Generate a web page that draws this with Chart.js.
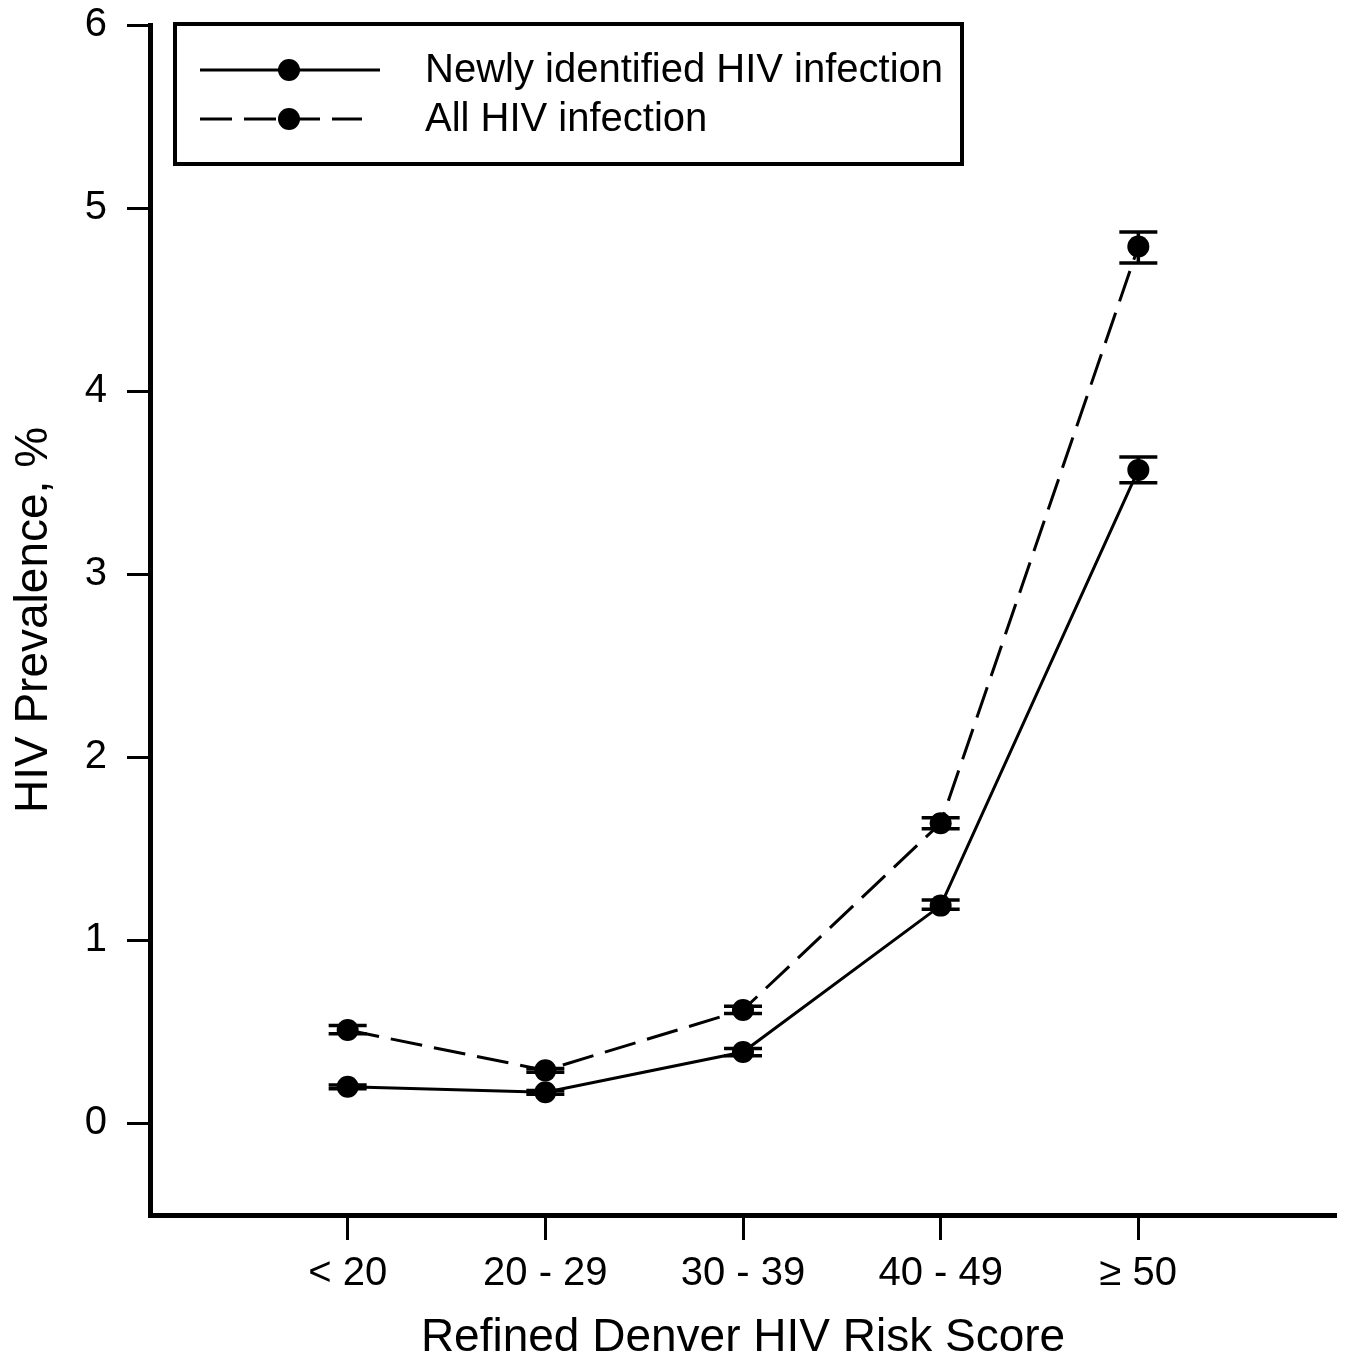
<!DOCTYPE html>
<html>
<head>
<meta charset="utf-8">
<script src="https://cdn.jsdelivr.net/npm/chart.js@4/dist/chart.umd.min.js"></script>
<style>
  body { margin: 0; background: #fff; }
  canvas { display: block; }
</style>
</head>
<body>
<canvas id="prevChart" width="1347" height="1361"></canvas>
<script>
// Risk score groups on the x axis
const categories = ['< 20', '20 - 29', '30 - 39', '40 - 49', '\u2265 50'];
const yTicks = [0, 1, 2, 3, 4, 5, 6];

// HIV prevalence (%) with lower / upper error bounds
const newlyValues = [0.20, 0.17, 0.39, 1.19, 3.57];
const newlyLower  = [0.19, 0.16, 0.37, 1.17, 3.50];
const newlyUpper  = [0.21, 0.18, 0.41, 1.22, 3.64];

const allValues = [0.51, 0.29, 0.62, 1.64, 4.79];
const allLower  = [0.49, 0.28, 0.60, 1.61, 4.70];
const allUpper  = [0.535, 0.30, 0.64, 1.67, 4.87];

const seriesNames = ['Newly identified HIV infection', 'All HIV infection'];

const FONT = "'Liberation Sans', Arial, sans-serif";

function toPoints(values) {
    return values.map((v, i) => ({ x: i + 1, y: v }));
}

// Error bar caps drawn with the chart's own scales
const errorBars = {
    id: 'errorBars',
    afterDatasetsDraw(chart) {
        const ctx = chart.ctx;
        const xs = chart.scales.x;
        const ys = chart.scales.y;
        const bounds = [[newlyLower, newlyUpper], [allLower, allUpper]];
        ctx.save();
        ctx.strokeStyle = '#000';
        ctx.lineWidth = 3.5;
        bounds.forEach(([lo, hi]) => {
            lo.forEach((l, i) => {
                const x = xs.getPixelForValue(i + 1);
                const yl = ys.getPixelForValue(l);
                const yh = ys.getPixelForValue(hi[i]);
                ctx.beginPath();
                ctx.moveTo(x, yl); ctx.lineTo(x, yh);
                ctx.moveTo(x - 19, yl); ctx.lineTo(x + 19, yl);
                ctx.moveTo(x - 19, yh); ctx.lineTo(x + 19, yh);
                ctx.stroke();
            });
        });
        ctx.restore();
    }
};

// Boxed legend with line + marker samples
const boxLegend = {
    id: 'boxLegend',
    afterDraw(chart) {
        const ctx = chart.ctx;
        ctx.save();
        ctx.strokeStyle = '#000';
        ctx.lineWidth = 4;
        ctx.strokeRect(175, 24, 787, 140);

        const rows = [70, 119];
        chart.data.datasets.forEach((ds, i) => {
            const y = rows[i];
            ctx.lineWidth = 3;
            ctx.setLineDash(ds.borderDash || []);
            ctx.beginPath();
            ctx.moveTo(200, y);
            ctx.lineTo(i === 0 ? 380 : 362, y);
            ctx.stroke();
            ctx.setLineDash([]);
            ctx.fillStyle = '#000';
            ctx.beginPath();
            ctx.arc(289, y, 11, 0, Math.PI * 2);
            ctx.fill();
            ctx.font = '40px ' + FONT;
            ctx.textBaseline = 'middle';
            ctx.fillText(ds.label, 425, y + 1);
        });
        ctx.restore();
    }
};

const ctx = document.getElementById('prevChart').getContext('2d');
new Chart(ctx, {
    type: 'line',
    data: {
        datasets: [
            {
                label: seriesNames[0],
                data: toPoints(newlyValues),
                borderColor: '#000',
                backgroundColor: '#000',
                borderWidth: 3,
                pointRadius: 11,
                pointBackgroundColor: '#000',
                pointBorderWidth: 0,
                fill: false,
                tension: 0
            },
            {
                label: seriesNames[1],
                data: toPoints(allValues),
                borderColor: '#000',
                backgroundColor: '#000',
                borderWidth: 3,
                borderDash: [32, 12],
                pointRadius: 11,
                pointBackgroundColor: '#000',
                pointBorderWidth: 0,
                fill: false,
                tension: 0
            }
        ]
    },
    options: {
        responsive: false,
        animation: false,
        layout: { padding: { top: 25, right: 3, left: 0, bottom: 0 } },
        plugins: {
            legend: { display: false },
            tooltip: { enabled: false }
        },
        scales: {
            x: {
                type: 'linear',
                min: 0,
                max: 6,
                afterBuildTicks: scale => {
                    scale.ticks = categories.map((c, i) => ({ value: i + 1 }));
                },
                afterFit: scale => { scale.height = 146; },
                ticks: {
                    callback: value => categories[value - 1],
                    color: '#000',
                    font: { family: FONT, size: 40 },
                    padding: 10,
                    maxRotation: 0
                },
                grid: {
                    drawOnChartArea: false,
                    drawTicks: true,
                    tickLength: 25,
                    tickWidth: 3,
                    tickColor: '#000'
                },
                border: { display: true, color: '#000', width: 5 },
                title: {
                    display: true,
                    text: 'Refined Denver HIV Risk Score',
                    color: '#000',
                    font: { family: FONT, size: 46, lineHeight: 1 },
                    padding: { top: 0, bottom: 0 }
                }
            },
            y: {
                min: -0.5,
                max: 6,
                afterBuildTicks: scale => {
                    scale.ticks = yTicks.map(v => ({ value: v }));
                },
                afterFit: scale => {
                    scale.width = 150;
                    scale.paddingTop = 0;
                    scale.paddingBottom = 0;
                },
                ticks: {
                    color: '#000',
                    font: { family: FONT, size: 40 },
                    padding: 20
                },
                grid: {
                    drawOnChartArea: false,
                    drawTicks: true,
                    tickLength: 23,
                    tickWidth: 3,
                    tickColor: '#000'
                },
                border: { display: true, color: '#000', width: 5 },
                title: {
                    display: true,
                    text: 'HIV Prevalence, %',
                    color: '#000',
                    font: { family: FONT, size: 46, lineHeight: 1 },
                    padding: { top: 11, bottom: 0 }
                }
            }
        }
    },
    plugins: [errorBars, boxLegend]
});
</script>
</body>
</html>
